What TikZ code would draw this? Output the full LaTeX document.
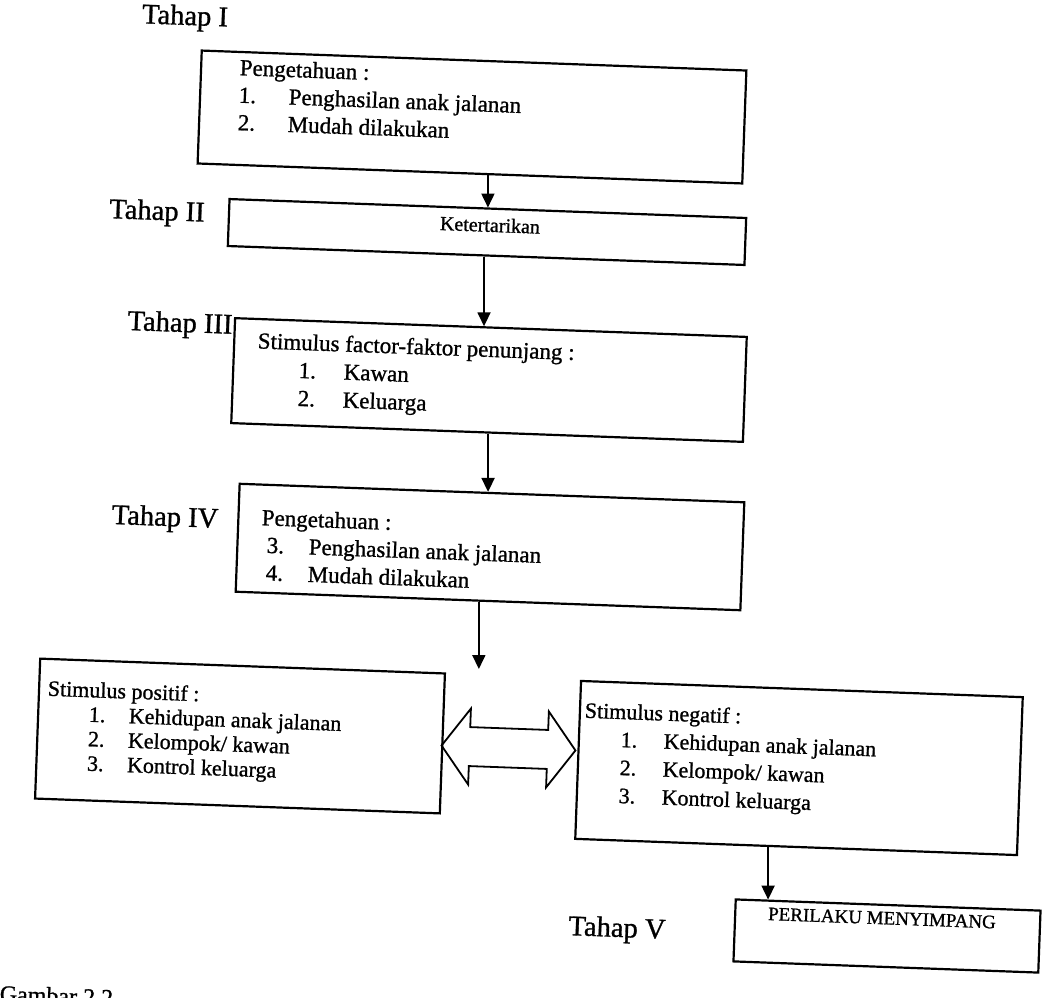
\documentclass[tikz,border=0pt]{standalone}
\usepackage{fontspec}
\setmainfont{Liberation Serif}[FakeBold=1]
\usetikzlibrary{arrows.meta,calc}
\begin{document}
\begin{tikzpicture}[x=1pt,y=-1pt,
  box/.style={draw, line width=2.2pt, rotate=-2.1, inner sep=0pt},
  txt/.style={rotate=-2.1, inner sep=0pt, align=left, anchor=north west, font=\fontsize{23}{27.5}\selectfont},
  stage/.style={rotate=-2.1, inner sep=0pt, font=\fontsize{28.5}{33}\selectfont},
  arr/.style={line width=1.8pt, -{Triangle[length=14pt,width=13pt]}}]
\useasboundingbox (0,0) rectangle (1045,997);
\fill[white] (0,0) rectangle (1045,997);

% stage labels
\node[stage] (s1) at (185,18) {Tahap I};
\node[stage] (s2) at (157,213) {Tahap II};
\node[stage] (s3) at (180,325) {Tahap III};
\node[stage] (s4) at (165,519) {Tahap IV};
\node[stage] (s5) at (617,930) {Tahap V};

% boxes
\node[box, minimum width=545pt, minimum height=113pt] (b1) at (472,117) {};
\node[box, minimum width=517pt, minimum height=47pt] (b2) at (487,232) {};
\node[box, minimum width=512pt, minimum height=105pt] (b3) at (489,380) {};
\node[box, minimum width=505pt, minimum height=108pt] (b4) at (490,547) {};
\node[box, minimum width=405pt, minimum height=140pt] (bp) at (240,736) {};
\node[box, minimum width=442pt, minimum height=158pt] (bn) at (799,768) {};
\node[box, minimum width=305pt, minimum height=62pt] (bv) at (887,936) {};

% texts
\node[txt] (t1) at (240,59) {Pengetahuan :\\
\makebox[50pt][l]{1.}Penghasilan anak jalanan\\
\makebox[50pt][l]{2.}Mudah dilakukan};
\node[stage, font=\fontsize{20}{24}\selectfont] (t2) at (490,225) {Ketertarikan};
\node[txt, font=\fontsize{23}{28}\selectfont] (t3) at (258,332) {Stimulus factor-faktor penunjang :\\
\hspace*{42pt}\makebox[45pt][l]{1.}Kawan\\
\hspace*{42pt}\makebox[45pt][l]{2.}Keluarga};
\node[txt] (t4) at (262,509) {Pengetahuan :\\
\hspace*{6pt}\makebox[42pt][l]{3.}Penghasilan anak jalanan\\
\hspace*{6pt}\makebox[42pt][l]{4.}Mudah dilakukan};
\node[txt, font=\fontsize{22}{24.5}\selectfont] (tp) at (48,680) {Stimulus positif :\\
\hspace*{42pt}\makebox[40pt][l]{1.}Kehidupan anak jalanan\\
\hspace*{42pt}\makebox[40pt][l]{2.}Kelompok/ kawan\\
\hspace*{42pt}\makebox[40pt][l]{3.}Kontrol keluarga};
\node[txt, font=\fontsize{22}{28}\selectfont] (tn) at (585,702) {Stimulus negatif :\\
\hspace*{37pt}\makebox[43pt][l]{1.}Kehidupan anak jalanan\\
\hspace*{37pt}\makebox[43pt][l]{2.}Kelompok/ kawan\\
\hspace*{37pt}\makebox[43pt][l]{3.}Kontrol keluarga};
\node[stage, font=\fontsize{19}{23}\selectfont] (tv) at (882,918) {PERILAKU MENYIMPANG};

% connectors
\coordinate (a1s) at ($(b1.south west)!0.533!(b1.south east)$);
\coordinate (a1e) at ($(b2.north west)!0.507!(b2.north east)$);
\coordinate (a2s) at ($(b2.south west)!0.496!(b2.south east)$);
\coordinate (a2e) at ($(b3.north west)!0.492!(b3.north east)$);
\coordinate (a3s) at ($(b3.south west)!0.502!(b3.south east)$);
\coordinate (a3e) at ($(b4.north west)!0.5!(b4.north east)$);
\coordinate (a4s) at ($(b4.south west)!0.482!(b4.south east)$);
\coordinate (e4) at (481,669);
\coordinate (a5s) at ($(bn.south west)!0.437!(bn.south east)$);
\coordinate (a5e) at ($(bv.north west)!0.116!(bv.north east)$);
\draw[arr] (a1s) -- (a1s |- a1e);
\draw[arr] (a2s) -- (a2s |- a2e);
\draw[arr] (a3s) -- (a3s |- a3e);
\draw[arr] (a4s) -- (a4s |- e4);
\draw[arr] (a5s) -- (a5s |- a5e);

% hollow double arrow between bp and bn
\begin{scope}[shift={(508.5,748)}, rotate=-2.1]
\draw[line width=1.8pt, line join=miter]
  (-67,0) -- (-39,-38) -- (-39,-19.5) -- (39,-19.5) -- (39,-38) -- (67,0)
  -- (39,38) -- (39,19.5) -- (-39,19.5) -- (-39,38) -- cycle;
\end{scope}

% cut-off caption
\begin{scope}
\clip (0,0) rectangle (1045,997);
\node[txt, font=\fontsize{24}{28}\selectfont] (cap) at (0,985) {Gambar 2.2};
\end{scope}
\end{tikzpicture}
\end{document}
